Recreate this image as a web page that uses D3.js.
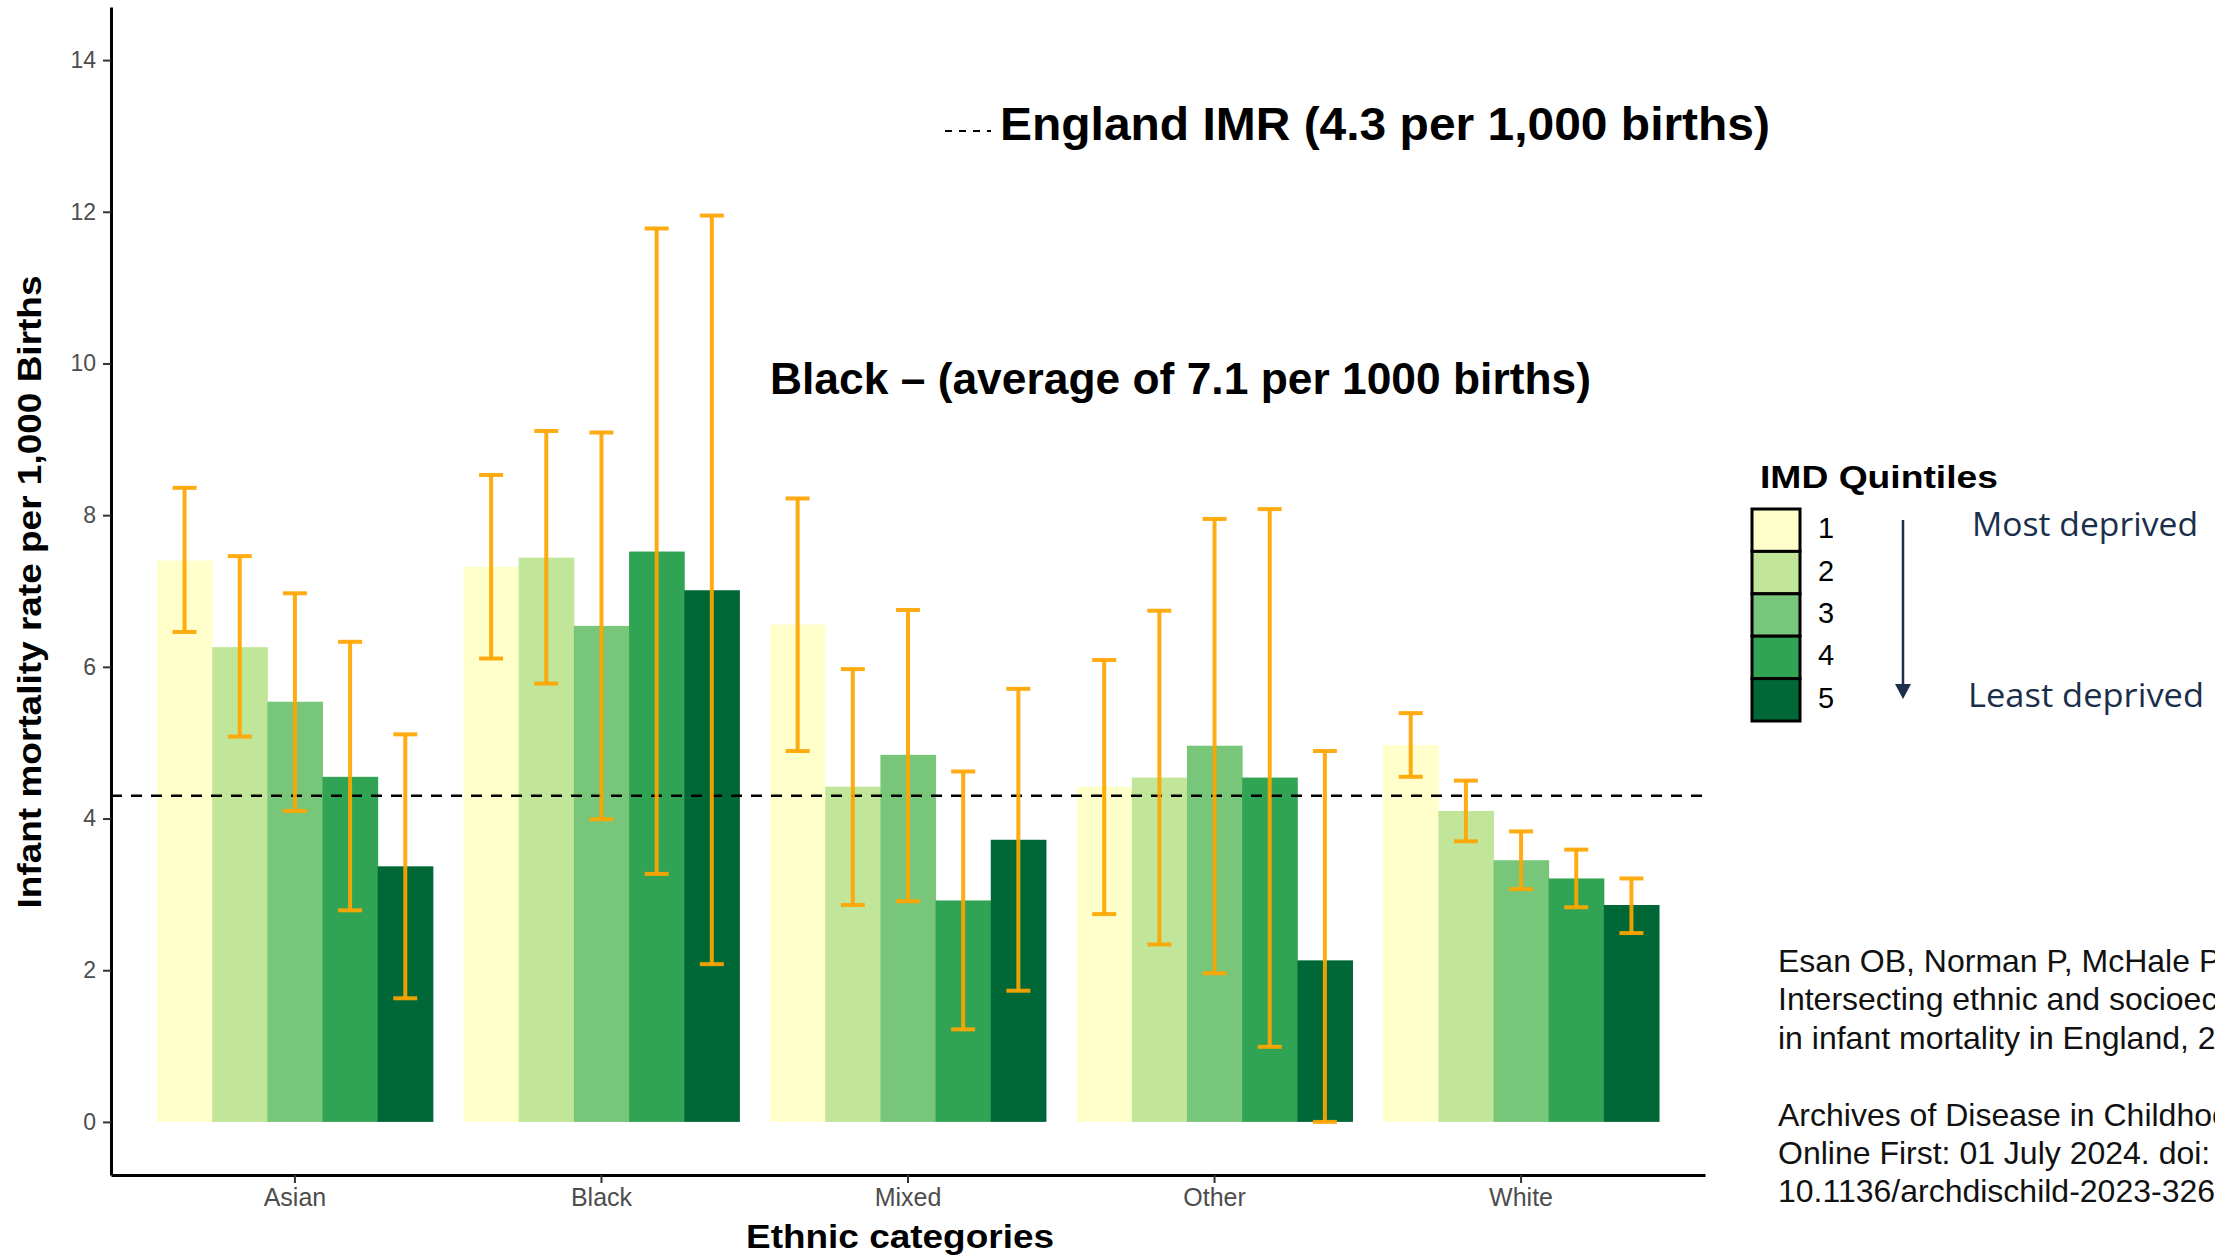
<!DOCTYPE html>
<html>
<head>
<meta charset="utf-8">
<script src="https://cdn.jsdelivr.net/npm/d3@7"></script>
<style>
  html, body { margin: 0; padding: 0; background: #fff; overflow: hidden; }
  svg { display: block; font-family: "Liberation Sans", Arial, sans-serif; }
</style>
</head>
<body>
<svg id="chart" width="2215" height="1255"></svg>
<script>
// values (per 1,000 births)
const categories = ["Asian", "Black", "Mixed", "Other", "White"];
const quintiles = ["1", "2", "3", "4", "5"];
const rates = [
  [7.40, 6.26, 5.54, 4.55, 3.37],
  [7.32, 7.44, 6.54, 7.52, 7.01],
  [6.56, 4.42, 4.84, 2.92, 3.72],
  [4.42, 4.54, 4.96, 4.54, 2.13],
  [4.97, 4.10, 3.45, 3.21, 2.86]
];
const lower = [
  [6.46, 5.08, 4.10, 2.79, 1.63],
  [6.11, 5.78, 3.99, 3.27, 2.08],
  [4.89, 2.86, 2.91, 1.22, 1.73],
  [2.74, 2.34, 1.96, 0.99, 0.00],
  [4.55, 3.70, 3.07, 2.83, 2.49]
];
const upper = [
  [8.36, 7.46, 6.97, 6.33, 5.11],
  [8.53, 9.11, 9.09, 11.78, 11.95],
  [8.22, 5.97, 6.75, 4.62, 5.71],
  [6.09, 6.74, 7.95, 8.08, 4.89],
  [5.39, 4.50, 3.83, 3.59, 3.21]
];
const yTicks = [0, 2, 4, 6, 8, 10, 12, 14];
const englandIMR = 4.3;
const colors = ["#ffffcc", "#c2e699", "#78c679", "#31a354", "#006837"];
const citation = [
  "Esan OB, Norman P, McHale P, et al.",
  "Intersecting ethnic and socioeconomic inequalities",
  "in infant mortality in England, 2008–2020.",
  "",
  "Archives of Disease in Childhood",
  "Online First: 01 July 2024. doi:",
  "10.1136/archdischild-2023-326"
];

const svg = d3.select("#chart");
const plotLeft = 111, plotRight = 1705, plotTop = 7, plotBottom = 1175;

const x = d3.scaleBand()
  .domain(categories)
  .range([plotLeft, plotRight])
  .paddingInner(0.1)
  .paddingOuter(0.15);

const xq = d3.scaleBand()
  .domain(quintiles)
  .range([0, x.bandwidth()]);

const y = d3.scaleLinear()
  .domain([-0.7, 14.7])
  .range([plotBottom, plotTop]);

const color = d3.scaleOrdinal().domain(quintiles).range(colors);

const data = [];
categories.forEach((c, i) => {
  quintiles.forEach((q, j) => {
    data.push({ cat: c, q: q, v: rates[i][j], lo: lower[i][j], hi: upper[i][j] });
  });
});

// bars
svg.append("g")
  .selectAll("rect")
  .data(data)
  .enter()
  .append("rect")
  .attr("x", d => x(d.cat) + xq(d.q))
  .attr("y", d => y(d.v))
  .attr("width", xq.bandwidth() + 0.5)
  .attr("height", d => y(0) - y(d.v))
  .attr("fill", d => color(d.q));

// reference line
svg.append("line")
  .attr("x1", plotLeft)
  .attr("x2", plotRight)
  .attr("y1", y(englandIMR))
  .attr("y2", y(englandIMR))
  .attr("stroke", "#000")
  .attr("stroke-width", 2.5)
  .attr("stroke-dasharray", "11,9");

// error bars
const eb = svg.append("g")
  .attr("stroke", "#ffa500")
  .attr("stroke-opacity", 0.92)
  .attr("stroke-width", 4);

const cx = d => x(d.cat) + xq(d.q) + xq.bandwidth() / 2;
const capHalf = 12;

eb.selectAll(".stem")
  .data(data)
  .enter()
  .append("line")
  .attr("x1", cx).attr("x2", cx)
  .attr("y1", d => y(d.lo)).attr("y2", d => y(d.hi));

eb.selectAll(".capHi")
  .data(data)
  .enter()
  .append("line")
  .attr("x1", d => cx(d) - capHalf).attr("x2", d => cx(d) + capHalf)
  .attr("y1", d => y(d.hi)).attr("y2", d => y(d.hi));

eb.selectAll(".capLo")
  .data(data)
  .enter()
  .append("line")
  .attr("x1", d => cx(d) - capHalf).attr("x2", d => cx(d) + capHalf)
  .attr("y1", d => y(d.lo)).attr("y2", d => y(d.lo));

// axes
const yAxis = svg.append("g")
  .attr("transform", `translate(${plotLeft},0)`)
  .call(d3.axisLeft(y).tickValues(yTicks).tickSize(8).tickSizeOuter(0).tickPadding(7));

yAxis.select(".domain").attr("stroke", "#000").attr("stroke-width", 3);
yAxis.selectAll(".tick line").attr("stroke", "#333").attr("stroke-width", 2);
yAxis.selectAll(".tick text")
  .attr("fill", "#4d4d4d")
  .style("font-size", "23px")
  .style("font-family", "'Liberation Sans', Arial, sans-serif");

const xAxis = svg.append("g")
  .attr("transform", `translate(0,${plotBottom})`)
  .call(d3.axisBottom(x).tickSize(8).tickSizeOuter(0).tickPadding(5));

xAxis.select(".domain").attr("stroke", "#000").attr("stroke-width", 3);
xAxis.selectAll(".tick line").attr("stroke", "#333").attr("stroke-width", 2);
xAxis.selectAll(".tick text")
  .attr("fill", "#4d4d4d")
  .style("font-size", "25px")
  .style("font-family", "'Liberation Sans', Arial, sans-serif");

// axis titles
svg.append("text")
  .attr("x", 900)
  .attr("y", 1248)
  .attr("text-anchor", "middle")
  .style("font-size", "33px")
  .style("font-weight", "bold")
  .attr("textLength", 308)
  .attr("lengthAdjust", "spacingAndGlyphs")
  .text("Ethnic categories");

svg.append("text")
  .attr("transform", "translate(41,592) rotate(-90)")
  .attr("text-anchor", "middle")
  .style("font-family", "'Liberation Sans Narrow', 'Liberation Sans', Arial, sans-serif")
  .style("font-size", "34px")
  .style("font-weight", "bold")
  .attr("textLength", 633)
  .attr("lengthAdjust", "spacingAndGlyphs")
  .text("Infant mortality rate per 1,000 Births");

// annotations
svg.append("line")
  .attr("x1", 945).attr("x2", 991)
  .attr("y1", 131).attr("y2", 131)
  .attr("stroke", "#000")
  .attr("stroke-width", 2)
  .attr("stroke-dasharray", "7,7");

svg.append("text")
  .attr("x", 1000)
  .attr("y", 140)
  .style("font-family", "'Liberation Sans Narrow', 'Liberation Sans', Arial, sans-serif")
  .style("font-size", "47px")
  .style("font-weight", "bold")
  .attr("textLength", 770)
  .attr("lengthAdjust", "spacingAndGlyphs")
  .text("England IMR (4.3 per 1,000 births)");

svg.append("text")
  .attr("x", 770)
  .attr("y", 394)
  .style("font-family", "'Liberation Sans Narrow', 'Liberation Sans', Arial, sans-serif")
  .style("font-size", "45px")
  .style("font-weight", "bold")
  .attr("textLength", 821)
  .attr("lengthAdjust", "spacingAndGlyphs")
  .text("Black – (average of 7.1 per 1000 births)");

// legend
svg.append("text")
  .attr("x", 1760)
  .attr("y", 488)
  .style("font-size", "32px")
  .style("font-weight", "bold")
  .attr("textLength", 238)
  .attr("lengthAdjust", "spacingAndGlyphs")
  .text("IMD Quintiles");

const keyH = 42.4;
const legend = svg.append("g").attr("transform", "translate(1752,509)");

legend.selectAll("rect")
  .data(quintiles)
  .enter()
  .append("rect")
  .attr("x", 0)
  .attr("y", (d, i) => i * keyH)
  .attr("width", 48)
  .attr("height", keyH)
  .attr("fill", d => color(d))
  .attr("stroke", "#000")
  .attr("stroke-width", 3);

legend.selectAll("text")
  .data(quintiles)
  .enter()
  .append("text")
  .attr("x", 66)
  .attr("y", (d, i) => i * keyH + keyH / 2 + 8)
  .style("font-size", "29px")
  .text(d => d);

// deprivation arrow
const navy = "#1b2f4b";
svg.append("line")
  .attr("x1", 1903).attr("x2", 1903)
  .attr("y1", 520).attr("y2", 688)
  .attr("stroke", navy)
  .attr("stroke-width", 2.5);

svg.append("path")
  .attr("d", "M1895,684 L1911,684 L1903,699 Z")
  .attr("fill", navy);

svg.append("text")
  .attr("x", 1972)
  .attr("y", 536)
  .attr("fill", navy)
  .style("font-family", "'Open Sans', 'Noto Sans', sans-serif")
  .style("font-size", "32px")
  .attr("textLength", 226)
  .attr("lengthAdjust", "spacingAndGlyphs")
  .text("Most deprived");

svg.append("text")
  .attr("x", 1968)
  .attr("y", 707)
  .attr("fill", navy)
  .style("font-family", "'Open Sans', 'Noto Sans', sans-serif")
  .style("font-size", "32px")
  .attr("textLength", 236)
  .attr("lengthAdjust", "spacingAndGlyphs")
  .text("Least deprived");

// citation (runs off the right edge, as in the source slide)
svg.append("g")
  .selectAll("text")
  .data(citation)
  .enter()
  .append("text")
  .attr("x", 1778)
  .attr("y", (d, i) => 972 + i * 38.4)
  .attr("fill", "#111")
  .style("font-size", "32px")
  .text(d => d);
</script>
</body>
</html>
